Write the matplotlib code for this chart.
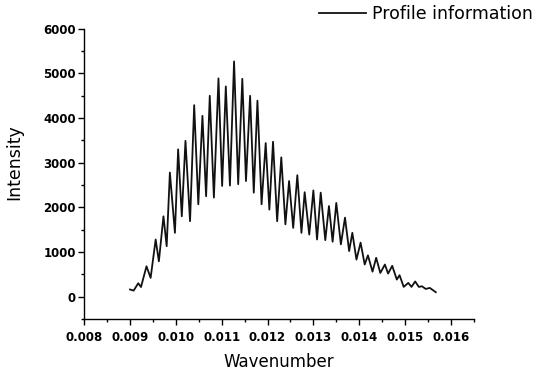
import matplotlib
matplotlib.use("Agg")
import matplotlib.pyplot as plt
from matplotlib.ticker import MultipleLocator, FormatStrFormatter

# extrema (wavenumber, intensity)
wavenumber = [
    0.00900, 0.00908, 0.00918, 0.00924, 0.00936, 0.00945, 0.00956, 0.00963,
    0.00973, 0.00980, 0.00987, 0.00998, 0.01005, 0.01013, 0.01021, 0.01031,
    0.01040, 0.01049, 0.01058, 0.01066, 0.01074, 0.01083, 0.01093, 0.01101,
    0.01109, 0.01118, 0.01127, 0.01136, 0.01145, 0.01153, 0.01162, 0.01170,
    0.01178, 0.01187, 0.01196, 0.01204, 0.01212, 0.01221, 0.01230, 0.01239,
    0.01247, 0.01256, 0.01265, 0.01274, 0.01281, 0.01291, 0.01300, 0.01308,
    0.01316, 0.01326, 0.01334, 0.01342, 0.01350, 0.01360, 0.01369, 0.01378,
    0.01385, 0.01394, 0.01403, 0.01412, 0.01419, 0.01429, 0.01437, 0.01446,
    0.01456, 0.01463, 0.01472, 0.01482, 0.01488, 0.01497, 0.01507, 0.01514,
    0.01522, 0.01530, 0.01537, 0.01545, 0.01554, 0.01567,
]
intensity = [
    160, 135, 300, 215, 680, 420, 1280, 790,
    1800, 1130, 2780, 1430, 3300, 1800, 3490, 1690,
    4290, 2070, 4050, 2250, 4500, 2220, 4890, 2480,
    4710, 2490, 5270, 2520, 4880, 2590, 4500, 2330,
    4390, 2070, 3440, 1950, 3470, 1690, 3120, 1620,
    2590, 1540, 2720, 1430, 2340, 1390, 2380, 1280,
    2330, 1265, 2030, 1230, 2100, 1170, 1770, 1020,
    1430, 830, 1210, 720, 925, 560, 870, 530,
    719, 517, 690, 382, 480, 218, 307, 218,
    340, 218, 232, 172, 195, 100,
]

fig = plt.figure(figsize=(5.36, 3.70), dpi=100)
ax = fig.add_axes([0.157, 0.138, 0.727, 0.784])

ax.plot(wavenumber, intensity, color="#111111", lw=1.3, label="Profile information")

ax.set_xlim(0.008, 0.0165)
ax.set_ylim(-500, 6000)
ax.xaxis.set_major_locator(MultipleLocator(0.001))
ax.xaxis.set_minor_locator(MultipleLocator(0.0005))
ax.xaxis.set_major_formatter(FormatStrFormatter("%.3f"))
ax.yaxis.set_major_locator(MultipleLocator(1000))
ax.yaxis.set_minor_locator(MultipleLocator(500))

for s in ["top", "right"]:
    ax.spines[s].set_visible(False)
for s in ["left", "bottom"]:
    ax.spines[s].set_linewidth(1.0)

ax.tick_params(which="major", direction="out", length=4, width=1, labelsize=8.5)
ax.tick_params(which="minor", direction="out", length=2, width=1)
ax.tick_params(axis="x", pad=5)
ax.tick_params(axis="y", pad=2)
for lab in ax.get_xticklabels() + ax.get_yticklabels():
    lab.set_fontweight("bold")

ax.set_xlabel("Wavenumber", fontsize=12, labelpad=6)
ax.set_ylabel("Intensity", fontsize=12.5, va="center")
ax.yaxis.set_label_coords(-0.18, 0.54)

ax.legend(loc="center right", bbox_to_anchor=(0.995, 0.962), bbox_transform=fig.transFigure,
          frameon=False, fontsize=12.5, handlelength=2.7, handletextpad=0.4,
          borderpad=0, borderaxespad=0)

fig.savefig("out.png", dpi=100)
